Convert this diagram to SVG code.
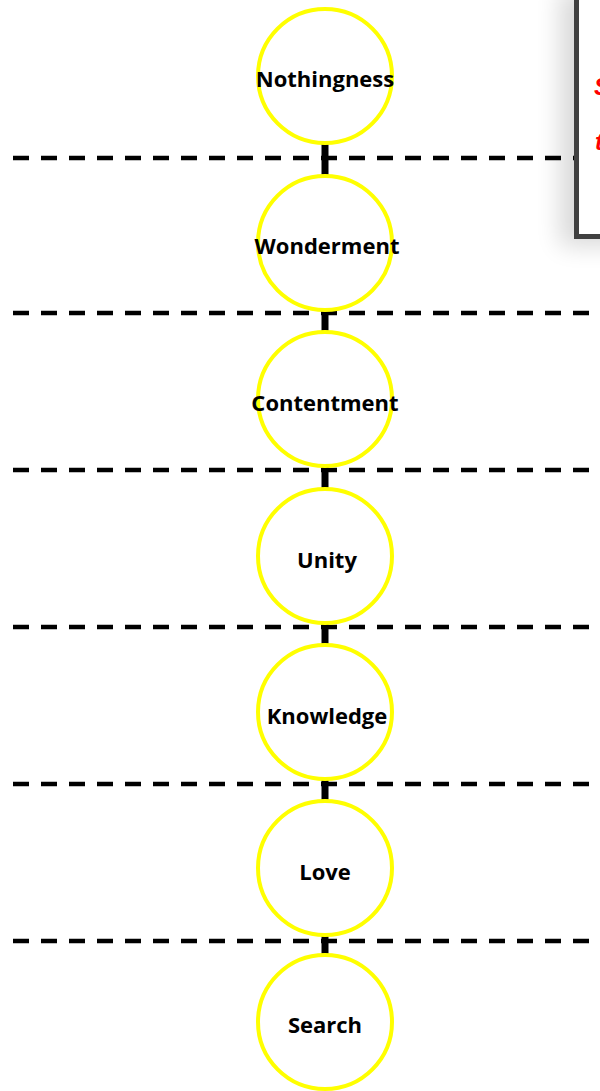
<svg xmlns="http://www.w3.org/2000/svg" width="600" height="1091" viewBox="0 0 600 1091">
<style>
.sep{stroke:#000;stroke-width:4.5;stroke-dasharray:16 12;fill:none}
.conn{stroke:#000;stroke-width:7;fill:none}
.node circle{fill:#fff;stroke:#ffff00;stroke-width:4}
.node text{font-family:"Open Sans","Liberation Sans",sans-serif;font-weight:bold;font-size:22px;fill:#000;text-anchor:middle;dominant-baseline:central}
.note{font-family:"Liberation Sans",sans-serif;font-style:italic;font-weight:bold;font-size:24px;fill:#ff0000}
</style>
<defs>
<filter id="sh" x="-50%" y="-20%" width="200%" height="140%">
<feGaussianBlur stdDeviation="12"/>
</filter>
</defs>
<rect x="0" y="0" width="600" height="1091" fill="#fff"/>
<g id="separators">
<line class="sep" x1="13" y1="158" x2="592" y2="158"/>
<line class="sep" x1="13" y1="313" x2="592" y2="313"/>
<line class="sep" x1="13" y1="470" x2="592" y2="470"/>
<line class="sep" x1="13" y1="627" x2="592" y2="627"/>
<line class="sep" x1="13" y1="784" x2="592" y2="784"/>
<line class="sep" x1="13" y1="941" x2="592" y2="941"/>
</g>
<g id="connectors">
<line class="conn" x1="325" y1="143" x2="325" y2="178"/>
<line class="conn" x1="325" y1="308" x2="325" y2="334"/>
<line class="conn" x1="325" y1="464" x2="325" y2="491"/>
<line class="conn" x1="325" y1="621" x2="325" y2="647"/>
<line class="conn" x1="325" y1="777" x2="325" y2="803"/>
<line class="conn" x1="325" y1="933" x2="325" y2="957"/>
</g>
<g id="n-nothingness" class="node"><circle cx="325" cy="76" r="67"/><text x="325" y="78">Nothingness</text></g>
<g id="n-wonderment" class="node"><circle cx="325" cy="243" r="67"/><text x="327" y="245">Wonderment</text></g>
<g id="n-contentment" class="node"><circle cx="325" cy="399" r="67"/><text x="325" y="402">Contentment</text></g>
<g id="n-unity" class="node"><circle cx="325" cy="556" r="67"/><text x="327" y="559">Unity</text></g>
<g id="n-knowledge" class="node"><circle cx="325" cy="712" r="67"/><text x="327" y="715">Knowledge</text></g>
<g id="n-love" class="node"><circle cx="325" cy="868" r="67"/><text x="325" y="871">Love</text></g>
<g id="n-search" class="node"><circle cx="325" cy="1022" r="67"/><text x="325" y="1024">Search</text></g>
<g id="note">
<rect x="560" y="-10" width="70" height="256" fill="#000" opacity="0.15" filter="url(#sh)"/>
<rect x="576.5" y="-10" width="40" height="246.5" fill="#fff" stroke="#404040" stroke-width="5"/>
<text class="note" x="594" y="95">S</text>
<text class="note" x="595" y="150">t</text>
</g>
</svg>
